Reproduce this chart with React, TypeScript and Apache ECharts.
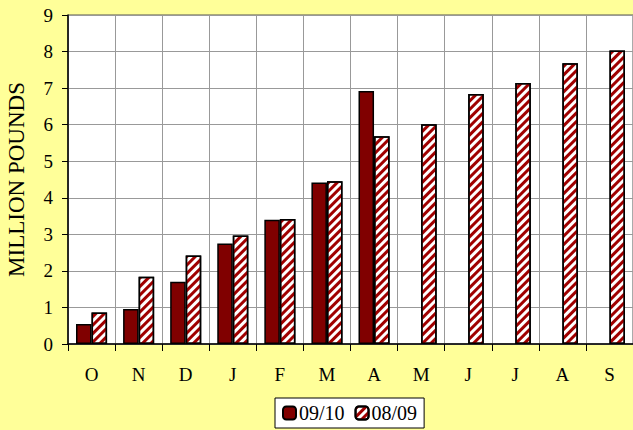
import React, { useEffect, useRef } from "react";
import * as echarts from "echarts";

const categories = ["O", "N", "D", "J", "F", "M", "A", "M", "J", "J", "A", "S"];
const series0910 = [0.55, 0.96, 1.7, 2.75, 3.4, 4.42, 6.92, null, null, null, null, null];
const series0809 = [0.86, 1.84, 2.42, 2.97, 3.42, 4.45, 5.68, 6.01, 6.84, 7.14, 7.68, 8.03];
const yTicks = [0, 1, 2, 3, 4, 5, 6, 7, 8, 9];

export default function App() {
  const ref = useRef<HTMLDivElement>(null);
  useEffect(() => {
    if (!ref.current) return;
    const chart = echarts.init(ref.current, null, { renderer: "svg" });
    const font = "'Liberation Serif', 'Times New Roman', serif";
    chart.setOption({
      animation: false,
      backgroundColor: "#FFFF99",
      textStyle: { fontFamily: font },
      grid: {
        left: 68,
        top: 15,
        right: 0,
        bottom: 86,
        show: true,
        backgroundColor: "#FFFFFF",
        borderColor: "#555",
        borderWidth: 1,
        containLabel: false,
        outerBoundsMode: "none",
      },
      legend: {
        top: 398,
        left: 275,
        backgroundColor: "#FFFFFF",
        borderColor: "#000",
        borderWidth: 1,
        borderRadius: 0,
        padding: [5, 7, 5, 7],
        itemWidth: 13,
        itemHeight: 13,
        itemGap: 10,
        textStyle: { fontFamily: font, fontSize: 20, color: "#000", padding: [0, 0, 0, -2] },
        data: ["09/10", "08/09"],
      },
      xAxis: {
        type: "category",
        data: categories,
        axisLine: { lineStyle: { color: "#000", width: 1.5 } },
        axisTick: { show: true, alignWithLabel: false, length: 7, lineStyle: { color: "#000" } },
        axisLabel: { fontFamily: font, fontSize: 19, color: "#000", margin: 21 },
        splitLine: { show: true, interval: 0, lineStyle: { color: "#999", width: 1 } },
      },
      yAxis: {
        type: "value",
        min: 0,
        max: 9,
        interval: 1,
        name: "MILLION POUNDS",
        nameLocation: "middle",
        nameGap: 40,
        nameTextStyle: { fontFamily: font, fontSize: 23, color: "#000" },
        axisLine: { show: true, lineStyle: { color: "#000", width: 1.5 } },
        axisTick: { show: true, length: 6, lineStyle: { color: "#000" } },
        axisLabel: {
          fontFamily: font,
          fontSize: 19,
          color: "#000",
          margin: 15,
          formatter: (v: number) => (yTicks.includes(v) ? String(v) : ""),
        },
        splitLine: { show: true, lineStyle: { color: "#999", width: 1 } },
      },
      series: [
        {
          name: "09/10",
          type: "bar",
          data: series0910,
          barGap: "0%",
          barCategoryGap: "34%",
          itemStyle: { color: "#800000", borderColor: "#000", borderWidth: 1.5 },
        },
        {
          name: "08/09",
          type: "bar",
          data: series0809,
          barGap: "0%",
          barCategoryGap: "34%",
          itemStyle: {
            color: "#FFFFFF",
            borderColor: "#000",
            borderWidth: 1.5,
            decal: {
              symbol: "rect",
              color: "#A00000",
              dashArrayX: [1, 0],
              dashArrayY: [3, 3],
              rotation: -Math.PI / 4,
              symbolSize: 1,
            },
          },
        },
      ],
    });
    return () => chart.dispose();
  }, []);
  return <div ref={ref} style={{ width: 633, height: 430, position: "absolute", left: 0, top: 0 }} />;
}
